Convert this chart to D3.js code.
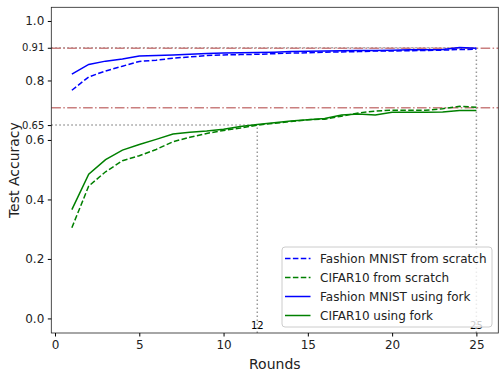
<!DOCTYPE html>
<html>
<head>
<meta charset="utf-8">
<script src="https://cdn.jsdelivr.net/npm/d3@7"></script>
<style>
  body { margin: 0; background: #fff; }
  svg { font-family: "DejaVu Sans", sans-serif; }
</style>
</head>
<body>
<svg width="504" height="378"></svg>
<script>
// rounds 1..25
const rounds = d3.range(1, 26)
const fmnistScratch = [0.767, 0.812, 0.832, 0.848, 0.864, 0.868, 0.875, 0.879, 0.884, 0.886, 0.887, 0.888, 0.890, 0.892, 0.893, 0.895, 0.896, 0.897, 0.899, 0.899, 0.900, 0.901, 0.902, 0.904, 0.905]
const cifarScratch = [0.305, 0.445, 0.493, 0.530, 0.547, 0.568, 0.594, 0.609, 0.622, 0.632, 0.640, 0.650, 0.656, 0.662, 0.668, 0.670, 0.680, 0.691, 0.697, 0.700, 0.700, 0.700, 0.705, 0.713, 0.710]
const fmnistFork = [0.821, 0.854, 0.865, 0.872, 0.882, 0.884, 0.886, 0.888, 0.891, 0.892, 0.893, 0.894, 0.895, 0.897, 0.898, 0.899, 0.900, 0.901, 0.901, 0.902, 0.903, 0.903, 0.904, 0.911, 0.908]
const cifarFork = [0.366, 0.485, 0.534, 0.566, 0.585, 0.602, 0.620, 0.626, 0.630, 0.636, 0.645, 0.652, 0.658, 0.664, 0.668, 0.672, 0.684, 0.687, 0.684, 0.693, 0.693, 0.693, 0.694, 0.699, 0.699]

const series = [
  { name: "Fashion MNIST from scratch", values: fmnistScratch, color: "blue", dash: "5.5,2.4" },
  { name: "CIFAR10 from scratch", values: cifarScratch, color: "green", dash: "5.5,2.4" },
  { name: "Fashion MNIST using fork", values: fmnistFork, color: "blue", dash: null },
  { name: "CIFAR10 using fork", values: cifarFork, color: "green", dash: null },
]
const yTicks = [0.0, 0.2, 0.4, 0.6, 0.8, 1.0]
const xTicks = [0, 5, 10, 15, 20, 25]
const refLevels = [0.908, 0.708]      // dash-dot lines
const marks = [{ round: 12, acc: 0.65, label: "0.65" }, { round: 25, acc: 0.91, label: "0.91" }]

const dims = { left: 51.3, right: 498.3, top: 7.3, bottom: 333 }
const svg = d3.select("svg")

const x = d3.scaleLinear().domain([-0.22, 26.3]).range([dims.left, dims.right])
const y = d3.scaleLinear().domain([-0.049, 1.046]).range([dims.bottom, dims.top])

// dotted guide lines
for (let m of marks) {
  svg.append("line")
    .attr("x1", dims.left).attr("x2", x(m.round))
    .attr("y1", y(m.acc)).attr("y2", y(m.acc))
    .attr("stroke", "#999").attr("stroke-width", 1.5).attr("stroke-dasharray", "1.5,2.5")
  svg.append("line")
    .attr("x1", x(m.round)).attr("x2", x(m.round))
    .attr("y1", dims.bottom).attr("y2", y(m.acc))
    .attr("stroke", "#999").attr("stroke-width", 1.5).attr("stroke-dasharray", "1.5,2.5")
  svg.append("text")
    .attr("x", x(m.round)).attr("y", y(-0.037))
    .attr("text-anchor", "middle").attr("font-size", 10)
    .text(m.round)
}

// dash-dot reference lines
for (let r of refLevels) {
  svg.append("line")
    .attr("x1", dims.left).attr("x2", dims.right)
    .attr("y1", y(r)).attr("y2", y(r))
    .attr("stroke", "#c97f7f").attr("stroke-width", 1.5)
    .attr("stroke-dasharray", "9.6,2.4,1.5,2.4")
}

const line = d3.line()
  .x((d, i) => x(rounds[i]))
  .y(d => y(d))

for (let s of series) {
  svg.append("path")
    .datum(s.values)
    .attr("d", line)
    .attr("fill", "none")
    .attr("stroke", s.color)
    .attr("stroke-width", 1.5)
    .attr("stroke-dasharray", s.dash)
}

// frame
svg.append("rect")
  .attr("x", dims.left).attr("y", dims.top)
  .attr("width", dims.right - dims.left).attr("height", dims.bottom - dims.top)
  .attr("fill", "none").attr("stroke", "#222").attr("stroke-width", 0.8)

// axes
const xAxis = svg.append("g")
  .attr("transform", `translate(0,${dims.bottom})`)
  .call(d3.axisBottom(x).tickValues(xTicks).tickSize(3.5).tickPadding(3.5).tickFormat(d3.format("d")))
xAxis.select(".domain").remove()
xAxis.selectAll("text").attr("font-size", 12).attr("fill", "#222").attr("font-family", "DejaVu Sans")

const yAxis = svg.append("g")
  .attr("transform", `translate(${dims.left},0)`)
  .call(d3.axisLeft(y).tickValues(yTicks).tickSize(3.5).tickPadding(3.5).tickFormat(d3.format(".1f")))
yAxis.select(".domain").remove()
yAxis.selectAll("text").attr("font-size", 12).attr("fill", "#222").attr("font-family", "DejaVu Sans")

// extra ticks for the marked levels
const yExtra = svg.append("g")
  .attr("transform", `translate(${dims.left},0)`)
  .call(d3.axisLeft(y).tickValues(marks.map(m => m.acc)).tickSize(3.5).tickPadding(3.5).tickFormat((d, i) => marks[i].label))
yExtra.select(".domain").remove()
yExtra.selectAll("text").attr("font-size", 10).attr("fill", "#222").attr("font-family", "DejaVu Sans")

svg.append("text")
  .attr("x", (dims.left + dims.right) / 2).attr("y", 369)
  .attr("text-anchor", "middle").attr("font-size", 14).attr("fill", "#222")
  .text("Rounds")
svg.append("text")
  .attr("transform", `translate(19,${(dims.top + dims.bottom) / 2}) rotate(-90)`)
  .attr("text-anchor", "middle").attr("font-size", 14).attr("fill", "#222")
  .text("Test Accuracy")

// legend
const lg = svg.append("g").attr("transform", "translate(282,247)")
lg.append("rect")
  .attr("width", 210).attr("height", 80).attr("rx", 3)
  .attr("fill", "white").attr("fill-opacity", 0.8).attr("stroke", "#ccc")
series.forEach((s, i) => {
  let yy = 11.5 + i * 19
  lg.append("line")
    .attr("x1", 3).attr("x2", 28.5).attr("y1", yy).attr("y2", yy)
    .attr("stroke", s.color).attr("stroke-width", 1.5).attr("stroke-dasharray", s.dash)
  lg.append("text")
    .attr("x", 38).attr("y", yy + 4.3)
    .attr("font-size", 12).attr("fill", "#222")
    .text(s.name)
})
</script>
</body>
</html>
